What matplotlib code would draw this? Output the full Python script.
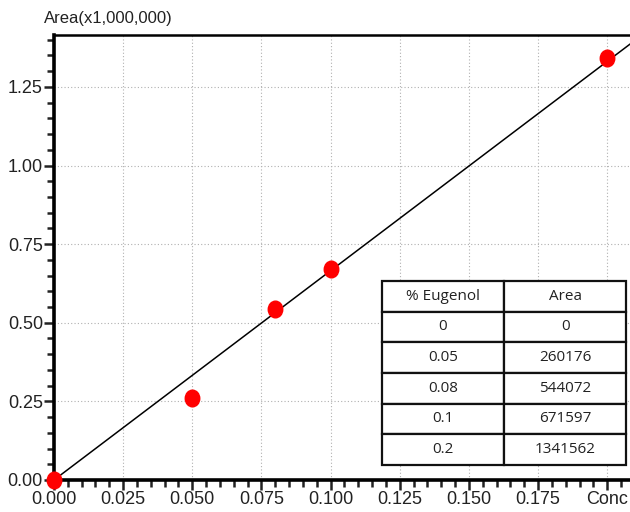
import numpy as np
import matplotlib.pyplot as plt
from matplotlib.path import Path
from matplotlib.transforms import Affine2D
from matplotlib.ticker import MultipleLocator, FuncFormatter

# calibration standards: % eugenol vs peak area
conc = [0, 0.05, 0.08, 0.1, 0.2]
area = [0, 260176, 544072, 671597, 1341562]
conc_labels = ["0", "0.05", "0.08", "0.1", "0.2"]

x = np.array(conc)
y = np.array(area) / 1e6

# least squares line forced through origin
slope = np.sum(x * y) / np.sum(x * x)

plt.rcParams['font.family'] = ['Liberation Sans Narrow', 'Liberation Sans', 'DejaVu Sans']

fig = plt.figure(figsize=(6.3, 5.12), dpi=100)
ax = fig.add_axes([54 / 630, 32 / 512, 1 - 54 / 630 + 0.002, 445 / 512])

xmax = 0.2087
ax.set_xlim(0, xmax)
ax.set_ylim(0, 1.415)

xl = np.array([0, xmax])
ax.plot(xl, slope * xl, color='black', lw=1.1, zorder=3)

# slightly tall oval markers
oval = Path.unit_circle().transformed(Affine2D().scale(1.0, 1.15))
ax.plot(x, y, linestyle='none', marker=oval, markersize=12, color='#ff0000',
        markeredgecolor='#ff0000', zorder=4, clip_on=False)

ax.xaxis.set_major_locator(MultipleLocator(0.025))
ax.xaxis.set_minor_locator(MultipleLocator(0.005))
ax.yaxis.set_major_locator(MultipleLocator(0.25))
ax.yaxis.set_minor_locator(MultipleLocator(0.05))

def xfmt(v, pos):
    if abs(v - 0.2) < 1e-9:
        return "Conc"
    return f"{v:.3f}"

ax.xaxis.set_major_formatter(FuncFormatter(xfmt))
ax.yaxis.set_major_formatter(FuncFormatter(lambda v, p: f"{v:.2f}"))

ax.grid(True, which='major', linestyle=(0, (1, 2)), color='#b0b0b0', lw=0.8)
ax.set_axisbelow(True)

for side in ['left', 'bottom']:
    ax.spines[side].set_linewidth(2.6)
ax.spines['top'].set_linewidth(1.8)
ax.spines['right'].set_visible(False)

ax.tick_params(which='both', direction='out', width=1.8, labelsize=13, colors='#222222')
ax.tick_params(which='major', length=7, pad=1)
ax.tick_params(which='minor', length=5)

fig.text(44 / 630, 1 - 18 / 512, "Area(x1,000,000)", fontsize=12, va='center', ha='left',
         color='#222222')

# data table in lower right
tab_rows = [["% Eugenol", "Area"]] + [[c, str(a)] for c, a in zip(conc_labels, area)]
tbl = ax.table(cellText=tab_rows, cellLoc='center',
               bbox=[(381 - 54) / 576, (480 - 465) / 445, (625 - 381) / 576, (465 - 281) / 445])
tbl.auto_set_font_size(False)
tbl.set_fontsize(11)
for (r, c), cell in tbl.get_celld().items():
    cell.set_linewidth(1.6)
    cell.set_edgecolor('#111111')
    cell.set_facecolor('white')
    cell.get_text().set_fontfamily(['Open Sans', 'DejaVu Sans'])
    cell.get_text().set_color('#222222')
tbl.set_zorder(5)

fig.savefig("out.png", dpi=100)
